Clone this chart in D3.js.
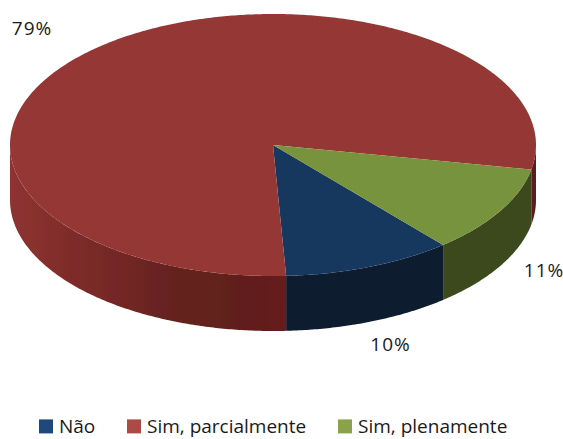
<!DOCTYPE html>
<html>
<head>
<meta charset="utf-8">
<script src="https://cdn.jsdelivr.net/npm/d3@7"></script>
<style>
  html, body { margin: 0; background: #fff; }
  text { font-family: "Open Sans", sans-serif; fill: #1a1a1a; }
</style>
</head>
<body>
<div id="chart"></div>
<script>
var categories = ["Não", "Sim, parcialmente", "Sim, plenamente"];
// slice sizes as measured on the picture, labels as printed
var values = [10.4, 78.8, 10.8];
var labels = ["10%", "79%", "11%"];
var topColors = ["#17375e", "#953735", "#77933c"];
var sideColors = ["#0d1a2e", "#7a2a28", "#3a481d"];
var legendColors = ["#1f497d", "#aa4b45", "#8aa24a"];

var width = 563, height = 439;
var cx = 273, cy = 145, rx = 263, ry = 131, depth = 55;

var svg = d3.select("#chart").append("svg")
    .attr("width", width)
    .attr("height", height)
    .style("display", "block");

// ellipse is a unit circle pushed through two linear scales
var xScale = d3.scaleLinear().domain([-1, 1]).range([cx - rx, cx + rx]);
var yScale = d3.scaleLinear().domain([-1, 1]).range([cy - ry, cy + ry]);

var pie = d3.pie()
    .sort(null)
    .startAngle(139.7 * Math.PI / 180)
    .endAngle(499.7 * Math.PI / 180);
var slices = pie(values);

function px(a) { return xScale(Math.sin(a)); }
function py(a) { return yScale(-Math.cos(a)); }

function anglesBetween(a0, a1) {
    var n = Math.max(2, Math.ceil((a1 - a0) / 0.01));
    return d3.range(n + 1).map(function(i) { return a0 + (a1 - a0) * i / n; });
}

var line = d3.line().x(function(p) { return p[0]; }).y(function(p) { return p[1]; });

var defs = svg.append("defs");

// the source is a soft raster, so take the edge off the pie a little
defs.append("filter")
    .attr("id", "soft")
  .append("feGaussianBlur")
    .attr("stdDeviation", 0.6);

// red wall shading, darkest just left of the front
var grad = defs.append("linearGradient")
    .attr("id", "redSide")
    .attr("gradientUnits", "userSpaceOnUse")
    .attr("x1", xScale(-1)).attr("x2", xScale(0.04))
    .attr("y1", 0).attr("y2", 0);
grad.selectAll("stop")
    .data([[0, "#8e3331"], [0.25, "#7d2b29"], [0.6, "#65221f"], [0.85, "#611f1c"], [1, "#661f1d"]])
  .enter().append("stop")
    .attr("offset", function(d) { return d[0]; })
    .attr("stop-color", function(d) { return d[1]; });

var pieG = svg.append("g").attr("filter", "url(#soft)");

// walls are only seen on the front half of the ellipse
var frontFrom = Math.PI / 2, frontTo = 3 * Math.PI / 2;
var walls = [];
slices.forEach(function(s, i) {
    [0, 2 * Math.PI].forEach(function(shift) {
        var a0 = Math.max(s.startAngle - shift, frontFrom);
        var a1 = Math.min(s.endAngle - shift, frontTo);
        if (a1 > a0) walls.push({i: i, a0: a0, a1: a1});
    });
});

pieG.selectAll(".wall")
    .data(walls)
  .enter().append("path")
    .attr("class", "wall")
    .attr("fill", function(d) { return d.i === 1 && d.a0 > 2.5 ? "url(#redSide)" : d.i === 1 ? "#5f1b1b" : sideColors[d.i]; })
    .attr("d", function(d) {
        var as = anglesBetween(d.a0, d.a1);
        var upper = as.map(function(a) { return [px(a), py(a)]; });
        var lower = as.slice().reverse().map(function(a) { return [px(a), py(a) + depth]; });
        return line(upper.concat(lower)) + "Z";
    });

pieG.selectAll(".slice")
    .data(slices)
  .enter().append("path")
    .attr("class", "slice")
    .attr("fill", function(d, i) { return topColors[i]; })
    .attr("d", function(d) {
        var pts = anglesBetween(d.startAngle, d.endAngle).map(function(a) { return [px(a), py(a)]; });
        return line([[xScale(0), yScale(0)]].concat(pts)) + "Z";
    });

var labelPos = [[390.5, 351], [32, 35], [544, 277]];
svg.selectAll(".pct")
    .data(labels)
  .enter().append("text")
    .attr("class", "pct")
    .attr("x", function(d, i) { return labelPos[i][0]; })
    .attr("y", function(d, i) { return labelPos[i][1]; })
    .attr("text-anchor", "middle")
    .attr("font-size", 19)
    .attr("letter-spacing", 1)
    .text(function(d) { return d; });

var legendX = [39, 127, 338];
var legend = svg.selectAll(".legend")
    .data(categories)
  .enter().append("g")
    .attr("class", "legend")
    .attr("transform", function(d, i) { return "translate(" + legendX[i] + ",419.4)"; });

legend.append("rect")
    .attr("width", 14)
    .attr("height", 14)
    .attr("fill", function(d, i) { return legendColors[i]; });

legend.append("text")
    .attr("x", 20)
    .attr("y", 14)
    .attr("font-size", 19)
    .text(function(d) { return d; });
</script>
</body>
</html>
